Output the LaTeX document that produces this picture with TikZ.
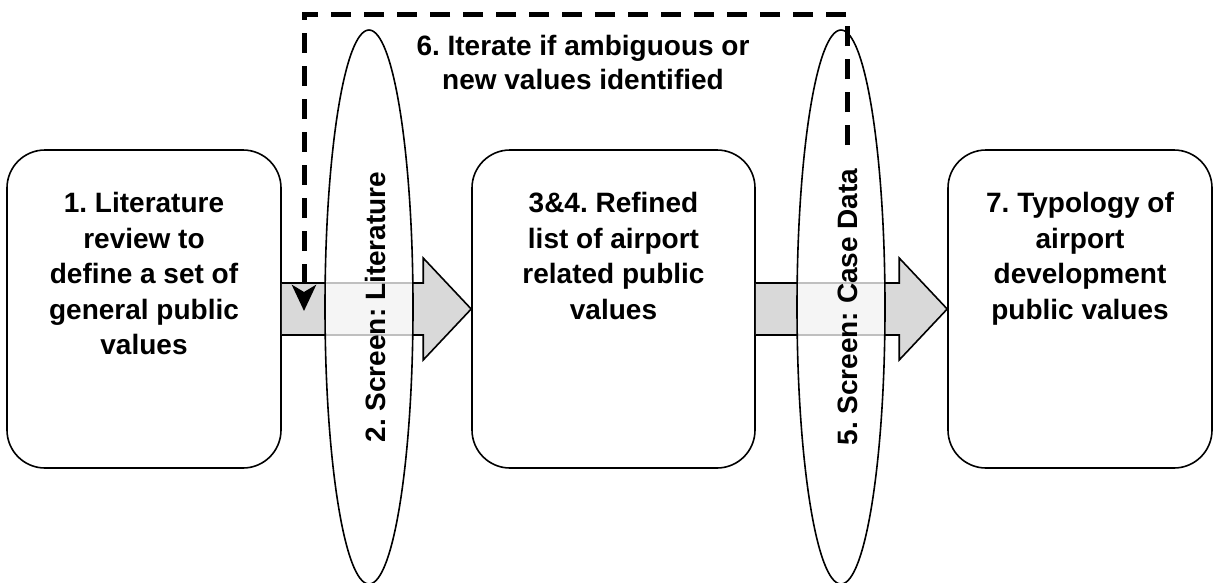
\documentclass[tikz,border=0pt]{standalone}
\usepackage{fontspec}
\setmainfont{Liberation Sans}
\usepackage{tikz}
\usetikzlibrary{shapes.geometric, arrows.meta, positioning, calc}
\frenchspacing
\definecolor{arrowgray}{RGB}{217,217,217}
\definecolor{mydark}{RGB}{0,0,0}
\tikzset{
  stepbox/.style={rectangle, draw=mydark, fill=white, rounded corners=38pt,
    minimum height=318pt, inner sep=0pt, line width=1.6pt},
  steptext/.style={align=center, inner sep=0pt,
    font=\fontsize{28}{35.5}\selectfont\bfseries},
  screen/.style={ellipse, draw=mydark, fill=white, fill opacity=0.75, text opacity=1,
    minimum width=554pt, minimum height=88pt, inner sep=0pt, rotate=90,
    text height=32pt, text depth=0pt,
    line width=1.6pt, font=\fontsize{28}{34}\selectfont\bfseries},
  blockarrow/.style={draw=mydark, fill=arrowgray, line width=1.6pt},
  iterline/.style={-{Stealth[length=26pt, width=24pt, inset=7pt]}, color=mydark,
    line width=5pt, dash pattern=on 20pt off 13pt}
}

\begin{document}
\begin{tikzpicture}[x=1pt, y=-1pt]
  \useasboundingbox (0,0) rectangle (1215,582);

  % Step boxes
  \node[stepbox, minimum width=274pt] (lit) at (144,309) {};
  \node[stepbox, minimum width=283pt] (list) at (613.5,309) {};
  \node[stepbox, minimum width=264pt] (typo) at (1080,309) {};

  % Box texts
  \node[steptext, below=43pt of lit.north] (littext)
    {1. Literature\\review to\\define a set of\\general public\\values};
  \node[steptext, below=43pt of list.north] (listtext)
    {3\&4. Refined\\list of airport\\related public\\values};
  \node[steptext, below=43pt of typo.north] (typotext)
    {7. Typology of\\airport\\development\\public values};

  % Block arrows
  \foreach \a/\b in {lit/list, list/typo} {
    \draw[blockarrow] ($(\a.east)+(0,-26)$) -- ($(\b.west)+(-48,-26)$)
      -- ($(\b.west)+(-48,-51)$) -- (\b.west) -- ($(\b.west)+(-48,51)$)
      -- ($(\b.west)+(-48,26)$) -- ($(\a.east)+(0,26)$);
  }

  % Screening ellipses
  \node[screen] (scrlit) at (369,307) {2. Screen: Literature};
  \node[screen] (scrcase) at (841,307) {5. Screen: Case Data};

  % Iteration loop
  \coordinate (iterfrom) at (847,145);
  \coordinate (iterto) at (304,311);
  \coordinate (looptop) at (0,14);
  \draw[iterline] (iterfrom) -- (iterfrom |- looptop) -- (iterto |- looptop) -- (iterto);
  \node[steptext, font=\fontsize{28}{34}\selectfont\bfseries] (iterlabel) at (583,62)
    {6. Iterate if ambiguous or\\new values identified};
\end{tikzpicture}
\end{document}
